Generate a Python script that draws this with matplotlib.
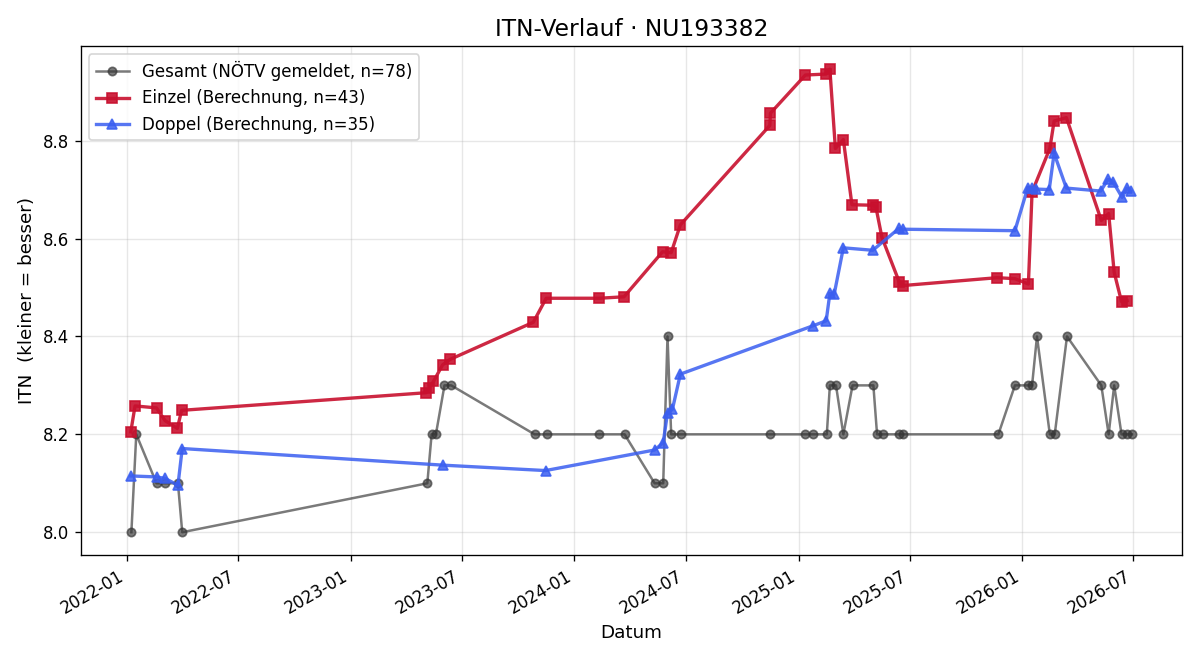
"""ITN-Verlauf chart."""

import matplotlib

matplotlib.use("Agg")
import matplotlib.dates as mdates
import matplotlib.pyplot as plt
import pandas as pd

gesamt_dates = [
    "2022-01-08", "2022-01-16", "2022-02-18", "2022-03-04", "2022-03-25", "2022-04-01",
    "2023-05-06", "2023-05-13", "2023-05-20", "2023-06-03", "2023-06-14",
    "2023-10-28", "2023-11-17", "2024-02-11", "2024-03-23",
    "2024-05-11", "2024-05-25", "2024-06-01", "2024-06-07", "2024-06-23",
    "2024-11-16", "2025-01-12", "2025-01-25", "2025-02-16", "2025-02-21", "2025-03-03",
    "2025-03-15", "2025-03-30", "2025-05-03", "2025-05-09", "2025-05-18", "2025-06-14",
    "2025-06-21", "2025-11-23", "2025-12-20", "2026-01-11", "2026-01-17", "2026-01-25",
    "2026-02-15", "2026-02-23", "2026-03-15", "2026-05-10", "2026-05-22", "2026-05-31",
    "2026-06-12", "2026-06-21", "2026-06-29",
]
gesamt_itn = [
    8.0, 8.2, 8.1, 8.1, 8.1, 8.0,
    8.1, 8.2, 8.2, 8.3, 8.3,
    8.2, 8.2, 8.2, 8.2,
    8.1, 8.1, 8.4, 8.2, 8.2,
    8.2, 8.2, 8.2, 8.2, 8.3, 8.3,
    8.2, 8.3, 8.3, 8.2, 8.2, 8.2,
    8.2, 8.2, 8.3, 8.3, 8.3, 8.4,
    8.2, 8.2, 8.4, 8.3, 8.2, 8.3,
    8.2, 8.2, 8.2,
]

einzel_dates = [
    "2022-01-07", "2022-01-14", "2022-02-18", "2022-03-04", "2022-03-24", "2022-03-31",
    "2023-05-04", "2023-05-09", "2023-05-16", "2023-05-31", "2023-06-12",
    "2023-10-26", "2023-11-16", "2024-02-11", "2024-03-22",
    "2024-05-24", "2024-06-07", "2024-06-22",
    "2024-11-15", "2024-11-16", "2025-01-12", "2025-02-15", "2025-02-21", "2025-03-02",
    "2025-03-15", "2025-03-29", "2025-05-03", "2025-05-07", "2025-05-17", "2025-06-14",
    "2025-06-21",
    "2025-11-21", "2025-12-20", "2026-01-11", "2026-01-17", "2026-02-15", "2026-02-22",
    "2026-03-14", "2026-05-10", "2026-05-22", "2026-05-31", "2026-06-12", "2026-06-21",
]
einzel_itn = [
    8.205, 8.258, 8.254, 8.228, 8.212, 8.249,
    8.285, 8.295, 8.308, 8.342, 8.353,
    8.429, 8.478, 8.478, 8.481,
    8.573, 8.571, 8.628,
    8.831, 8.856, 8.934, 8.936, 8.946, 8.784, 8.802,
    8.669, 8.668, 8.665, 8.602, 8.512,
    8.504,
    8.52, 8.518, 8.507, 8.695, 8.784, 8.84,
    8.847, 8.637, 8.651, 8.531, 8.471, 8.473,
]

doppel_dates = [
    "2022-01-07", "2022-02-18", "2022-03-04", "2022-03-25", "2022-04-01",
    "2023-06-01", "2023-11-15",
    "2024-05-11", "2024-05-25", "2024-06-01", "2024-06-09", "2024-06-22",
    "2025-01-25", "2025-02-15", "2025-02-21", "2025-02-28", "2025-03-15", "2025-05-02",
    "2025-06-14", "2025-06-21",
    "2025-12-20", "2026-01-10", "2026-01-17", "2026-01-24", "2026-02-14", "2026-02-22",
    "2026-03-14", "2026-05-09", "2026-05-21", "2026-05-29", "2026-06-13", "2026-06-21",
    "2026-06-27",
]
doppel_itn = [
    8.115, 8.113, 8.11, 8.096, 8.171,
    8.137, 8.126,
    8.168, 8.183, 8.244, 8.251, 8.323,
    8.422, 8.432, 8.488, 8.486, 8.581, 8.576,
    8.621, 8.619,
    8.616, 8.704, 8.703, 8.701, 8.70, 8.774,
    8.703, 8.697, 8.721, 8.716, 8.684, 8.703,
    8.697,
]

fig, ax = plt.subplots(figsize=(10, 5.5), dpi=120)
ax.plot(pd.to_datetime(gesamt_dates), gesamt_itn, "-o", color="#333333", alpha=0.65,
        markersize=5, linewidth=1.5, label="Gesamt (NÖTV gemeldet, n=78)")
ax.plot(pd.to_datetime(einzel_dates), einzel_itn, "-s", color="#c8102e", alpha=0.9,
        markersize=6, linewidth=2, label="Einzel (Berechnung, n=43)")
ax.plot(pd.to_datetime(doppel_dates), doppel_itn, "-^", color="#3a5ef0", alpha=0.85,
        markersize=6, linewidth=2, label="Doppel (Berechnung, n=35)")
ax.set_title("ITN-Verlauf · NU193382", fontsize=14)
ax.set_xlabel("Datum", fontsize=11)
ax.set_ylabel("ITN  (kleiner = besser)", fontsize=11)
ax.xaxis.set_major_locator(mdates.MonthLocator(bymonth=[1, 7]))
ax.xaxis.set_major_formatter(mdates.DateFormatter("%Y-%m"))
ax.grid(alpha=0.3)
ax.legend(loc="upper left")
fig.autofmt_xdate()
plt.tight_layout()
plt.savefig("out.png")
plt.close()
